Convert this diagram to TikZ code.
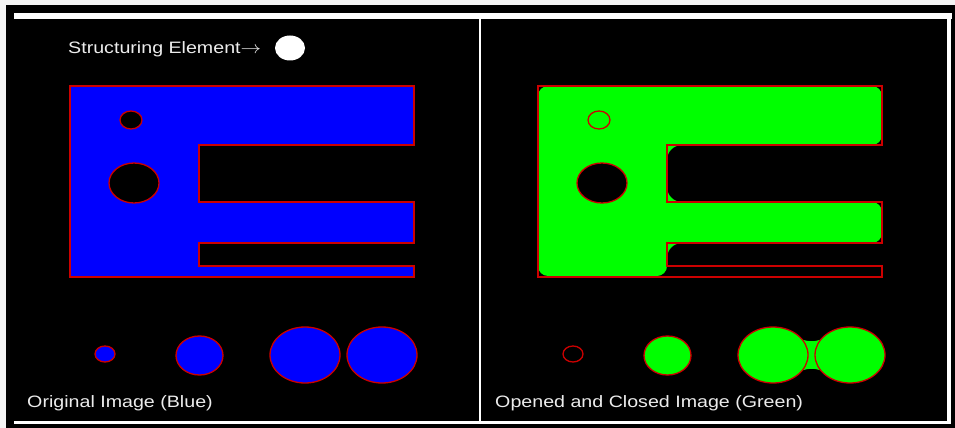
\documentclass[tikz,border=0pt]{standalone}
\usepackage{fontspec}
\setmainfont{Liberation Sans}
\usepackage{tikz}
\usetikzlibrary{positioning}
\definecolor{edgered}{RGB}{205,0,0}
\definecolor{imgblue}{RGB}{0,0,255}
\definecolor{imggreen}{RGB}{0,255,0}
\definecolor{captext}{RGB}{236,236,236}

\begin{document}
\begin{tikzpicture}[x=1pt,y=-1pt,
          lbl/.style={anchor=base west,inner sep=0pt,text=captext,
                      font=\fontsize{16.5}{18}\selectfont,xscale=1.19},
          rim/.style={draw=edgered,line width=1.3pt},
          bar/.style={fill=white}]
        \fill[gray!8] (0,0) rectangle (955,428);
        \useasboundingbox (0,0) rectangle (955,428);
        \fill[black] (6,5) rectangle (955,428);
        \fill[bar] (14,13) rectangle (952,19);
        \fill[bar] (947,13) rectangle (951,424);
        \fill[bar] (14,421) rectangle (951,424);
        \fill[bar] (479,19) rectangle (481,421);
        \node[lbl](selabel) at (68,53){Structuring Element$\rightarrow$};
        \fill[white] (290,48) ellipse [x radius=15pt,y radius=12.5pt];
        \fill[imgblue,rim] (70,86) -| (414,145) -- (199,145) |- (414,202)
          |- (199,243) |- (414,266) |- (70,277) -- cycle;
        \fill[black,rim] (131,120) ellipse [x radius=11pt,y radius=9pt];
        \fill[black,rim] (134,183) ellipse [x radius=25pt,y radius=20pt];
        \fill[imgblue,rim] (105,354) ellipse [x radius=10pt,y radius=8pt];
        \fill[imgblue,rim] (199.5,355.5) ellipse [x radius=23.5pt,y radius=19.5pt];
        \fill[imgblue,rim] (305,355) ellipse [x radius=35pt,y radius=28pt];
        \fill[imgblue,rim] (382,355) ellipse [x radius=35pt,y radius=28pt];
        \node[lbl](origlabel) at (27,407){Original Image (Blue)};
        \fill[imggreen,rounded corners=10pt] (538,86) -- (882,86) -- (882,145)
          [rounded corners=15pt] -- (667,145) -- (667,202)
          [rounded corners=10pt] -- (882,202) -- (882,243)
          [rounded corners=15pt] -- (667,243)
          [rounded corners=10pt] -- (667,276) -- (538,276) -- cycle;
        \draw[rim] (538,86) -| (882,145) -- (667,145) |- (882,202)
          |- (667,243) |- (882,266) |- (538,277) -- cycle;
        \draw[rim] (599,120) ellipse [x radius=11pt,y radius=9pt];
        \fill[black,rim] (602,183) ellipse [x radius=25pt,y radius=20pt];
        \fill[black,rim] (573,354) ellipse [x radius=10pt,y radius=8pt];
        \fill[imggreen,rim] (667.5,355.5) ellipse [x radius=23.5pt,y radius=19.5pt];
        \fill[imggreen] (796,336) .. controls (805,343) and (818,343) .. (827,336)
          -- (827,374) .. controls (818,367) and (805,367) .. (796,374) -- cycle;
        \fill[imggreen,rim] (773,355) ellipse [x radius=35pt,y radius=28pt];
        \fill[imggreen,rim] (850,355) ellipse [x radius=35pt,y radius=28pt];
        \node[lbl](resultlabel) at (495,407){Opened and Closed Image (Green)};
      \end{tikzpicture}
\end{document}
